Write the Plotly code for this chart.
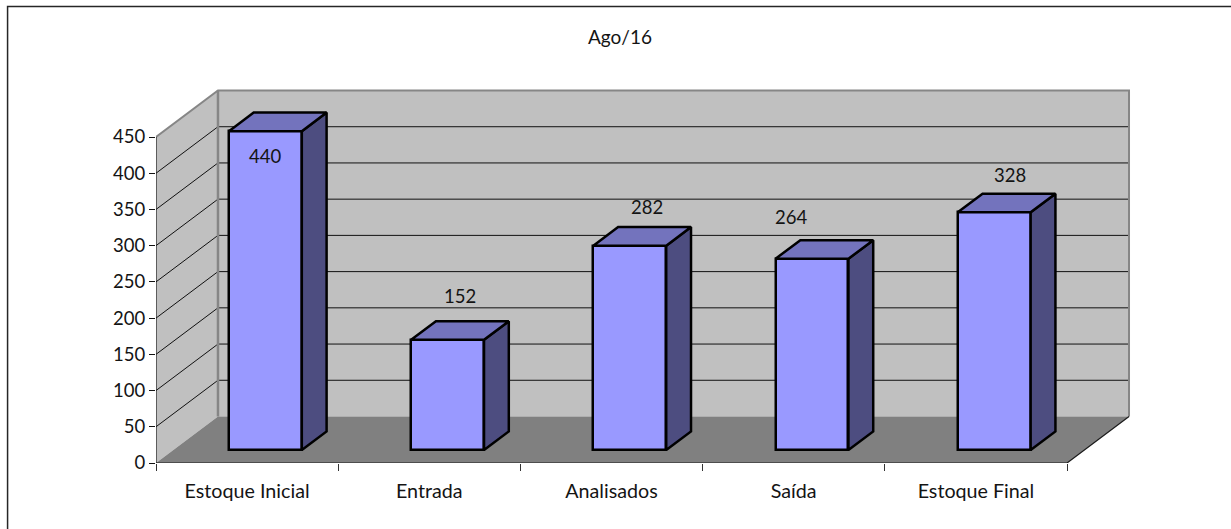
import plotly.graph_objects as go

categories = ["Estoque Inicial", "Entrada", "Analisados", "Saída", "Estoque Final"]
values = [440, 152, 282, 264, 328]
y_ticks = list(range(0, 451, 50))

# page geometry (pixels)
W, H = 1231, 529
X0, Y0 = 155.5, 463.0
CAT_PX, VAL_PX = 182.3, 326 / 450
DEPTH_DX, DEPTH_DY = 62.0, 46.5
XMAX_PX, YMIN_PX = 1145.0, 80.0

DX = DEPTH_DX / CAT_PX   # category units per unit of depth
DY = DEPTH_DY / VAL_PX   # value units per unit of depth
D_FRONT, D_BACK = 0.28, 0.68
BAR_W = 0.40
BAR_SHIFT = 0.005
FONT_SIZE = 18.5
LABEL_FONT_SIZE = 19.7

# manual label displacement in px, relative to the bar's front-top centre
label_dx = [0, 12, 17, -21, 16]
label_dy = [-25, 44, 39, 42, 37]


def pr(cat, val, d=0.0):
    return cat + DX * d, val + DY * d


def path(points, close=True):
    s = "M " + " L ".join(f"{x:.5f} {y:.5f}" for x, y in points)
    return s + (" Z" if close else "")


top = y_ticks[-1]
n = len(categories)
wall_fill, floor_fill, wall_line = "#C0C0C0", "#808080", "#868686"
text_col = "#141414"

shapes = [
    # chart frame
    dict(type="rect", xref="paper", yref="paper",
         x0=(7 - X0) / (XMAX_PX - X0), x1=(1240 - X0) / (XMAX_PX - X0),
         y0=(Y0 - 540) / (Y0 - YMIN_PX), y1=(Y0 - 6.5) / (Y0 - YMIN_PX),
         line=dict(color="#262626", width=1.5), fillcolor="white", layer="below"),
    dict(type="path", path=path([pr(0, 0), pr(0, 0, 1), pr(0, top, 1), pr(0, top)]),
         fillcolor=wall_fill, line=dict(width=0), layer="below"),
    dict(type="path", path=path([pr(0, 0, 1), pr(n, 0, 1), pr(n, top, 1), pr(0, top, 1)]),
         fillcolor=wall_fill, line=dict(width=0), layer="below"),
    dict(type="path", path=path([pr(0, 0), pr(n, 0), pr(n, 0, 1), pr(0, 0, 1)]),
         fillcolor=floor_fill, line=dict(width=0), layer="below"),
]
for v in y_ticks[1:-1]:
    shapes.append(dict(type="path", path=path([pr(0, v), pr(0, v, 1), pr(n, v, 1)], False),
                       line=dict(color="#111111", width=1), layer="below"))
shapes.append(dict(type="path",
                   path=path([pr(0, top), pr(0, top, 1), pr(n, top, 1), pr(n, 0, 1)], False),
                   line=dict(color=wall_line, width=2), layer="below"))
shapes.append(dict(type="path", path=path([pr(0, 0, 1), pr(0, top, 1)], False),
                   line=dict(color=wall_line, width=2.5), layer="below"))

fig = go.Figure()

centres = [i + 0.5 + BAR_SHIFT for i in range(n)]
tick_centres = [i + 0.5 for i in range(n)]
x_front = [pr(c, 0, D_FRONT)[0] for c in centres]
base_front = pr(0, 0, D_FRONT)[1]

# front faces
fig.add_bar(x=x_front, y=values, base=base_front, width=BAR_W,
            marker=dict(color="#9999FF", line=dict(color="black", width=2.5)),
            hoverinfo="skip", showlegend=False, cliponaxis=False)

# top and side faces projected from the same values
for c, v in zip(centres, values):
    l, r = c - BAR_W / 2, c + BAR_W / 2
    side = [pr(r, 0, D_FRONT), pr(r, 0, D_BACK), pr(r, v, D_BACK), pr(r, v, D_FRONT), pr(r, 0, D_FRONT)]
    roof = [pr(l, v, D_FRONT), pr(r, v, D_FRONT), pr(r, v, D_BACK), pr(l, v, D_BACK), pr(l, v, D_FRONT)]
    for pts, col in ((side, "#4D4D80"), (roof, "#7373BD")):
        fig.add_scatter(x=[p[0] for p in pts], y=[p[1] for p in pts], mode="lines",
                        fill="toself", fillcolor=col, line=dict(color="black", width=2.5),
                        hoverinfo="skip", showlegend=False, cliponaxis=False)

# axis lines and the floor's right edge
axis_x = [pr(0, top)[0], pr(0, 0)[0], pr(n, 0)[0], pr(n, 0, 1)[0]]
axis_y = [pr(0, top)[1], pr(0, 0)[1], pr(n, 0)[1], pr(n, 0, 1)[1]]
fig.add_scatter(x=axis_x, y=axis_y, mode="lines", line=dict(color="#1a1a1a", width=1.2),
                hoverinfo="skip", showlegend=False, cliponaxis=False)

annotations = [
    dict(x=xf, y=v + base_front, xref="x", yref="y", text=str(v), showarrow=False,
         xshift=dx, yshift=dy, font=dict(family="Lato", size=FONT_SIZE, color=text_col))
    for xf, v, dx, dy in zip(x_front, values, label_dx, label_dy)
]

fig.update_layout(
    width=W, height=H, autosize=False,
    margin=dict(l=X0, r=W - XMAX_PX, t=YMIN_PX, b=H - Y0, pad=0),
    paper_bgcolor="white", plot_bgcolor="rgba(0,0,0,0)",
    font=dict(family="Lato", size=FONT_SIZE, color=text_col),
    title=dict(text="Ago/16", x=620 / W, y=1 - 37 / H, xref="container", yref="container",
               xanchor="center", yanchor="middle", font=dict(family="Lato", size=19, color=text_col)),
    shapes=shapes, annotations=annotations, bargap=0,
    xaxis=dict(range=[0, (XMAX_PX - X0) / CAT_PX], tickmode="array", tickvals=tick_centres,
               ticktext=categories, ticks="", showgrid=False, zeroline=False, showline=False,
               ticklabelstandoff=14, fixedrange=True,
               tickfont=dict(family="Lato", size=LABEL_FONT_SIZE, color=text_col),
               minor=dict(tickmode="array", tickvals=list(range(n + 1)), ticks="outside",
                          ticklen=7, tickwidth=1, tickcolor="#333333", showgrid=False)),
    yaxis=dict(range=[0, (Y0 - YMIN_PX) / VAL_PX], tickmode="array", tickvals=y_ticks,
               ticks="outside", ticklen=6, tickwidth=1, tickcolor="#111111",
               showgrid=False, zeroline=False, showline=False, fixedrange=True),
)

fig.write_html("out.html", config={"displayModeBar": False},
               post_script="document.body.style.margin='0';")
